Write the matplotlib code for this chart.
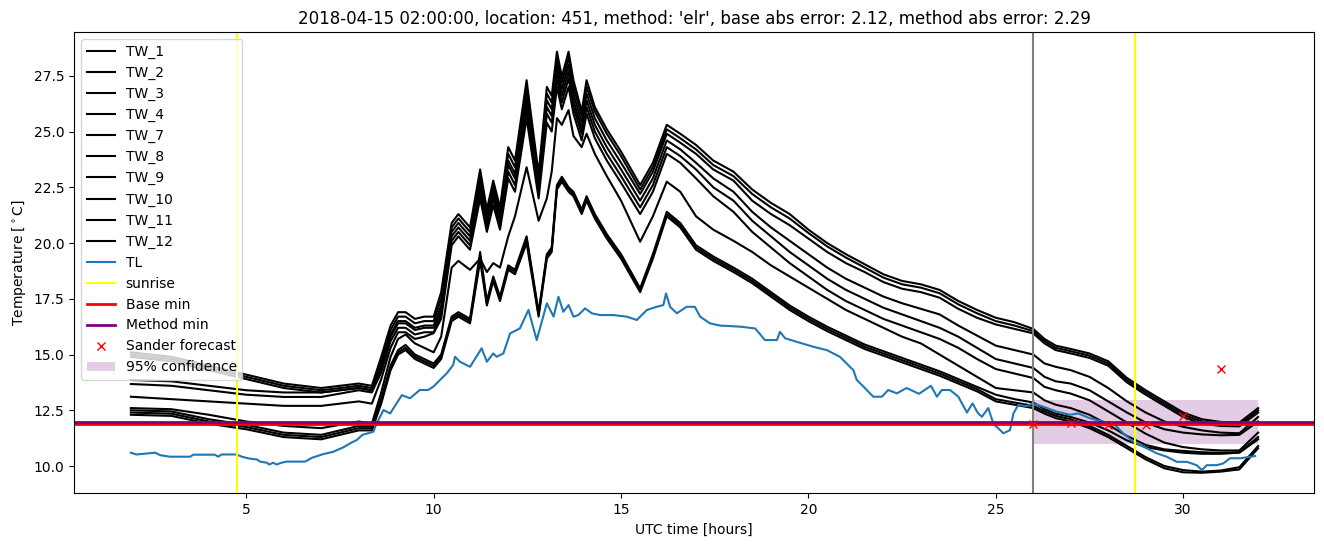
import matplotlib
matplotlib.use("Agg")
import matplotlib.pyplot as plt

# ---------------- data ----------------
hours = [1.92, 3.0, 4.0, 5.0, 6.0, 7.0, 8.0, 8.35, 8.6, 8.85,
         9.05, 9.25, 9.5, 9.75, 10.0, 10.2, 10.48, 10.66, 10.97, 11.24,
         11.42, 11.59, 11.77, 11.99, 12.17, 12.48, 12.8, 13.02, 13.15, 13.29,
         13.42, 13.6, 13.73, 13.95, 14.08, 14.3, 14.62, 15.0, 15.51, 15.85,
         16.22, 16.58, 17.0, 17.46, 18.0, 18.5, 19.0, 19.5, 20.0, 20.5,
         21.0, 21.5, 22.0, 22.5, 23.0, 23.5, 24.0, 24.5, 25.0, 25.5,
         26.0, 26.3, 26.6, 27.0, 27.5, 28.0, 28.5, 29.0, 29.5, 30.0,
         30.5, 31.0, 31.5, 32.0]

tw_1 = [15.1, 14.9, 14.5, 14.1, 13.7, 13.5, 13.7, 13.6, 14.9, 16.3,
        16.9, 16.9, 16.6, 16.7, 16.7, 17.8, 20.9, 21.3, 20.7, 23.3,
        21.5, 22.8, 21.6, 24.3, 23.7, 27.3, 23.1, 27.0, 26.6, 28.58,
        27.46, 28.58, 27.3, 25.9, 27.3, 26.1, 25.1, 24.1, 22.6, 23.6,
        25.3, 24.9, 24.4, 23.7, 23.2, 22.4, 21.8, 21.3, 20.6, 20.0,
        19.5, 19.05, 18.6, 18.3, 18.15, 17.9, 17.4, 17.0, 16.65, 16.45,
        16.15, 15.7, 15.4, 15.25, 15.05, 14.7, 13.95, 13.4, 12.9, 12.4,
        12.1, 11.98, 11.95, 12.6]
tw_2 = [15.0, 14.8, 14.4, 14.0, 13.6, 13.4, 13.6, 13.5, 14.7, 16.1,
        16.7, 16.7, 16.4, 16.5, 16.5, 17.5, 20.7, 21.1, 20.5, 23.0,
        21.3, 22.6, 21.4, 24.0, 23.4, 27.0, 22.9, 26.7, 26.3, 28.3,
        27.2, 28.3, 27.0, 25.7, 27.0, 25.9, 24.9, 23.9, 22.4, 23.4,
        25.1, 24.7, 24.2, 23.5, 23.0, 22.2, 21.6, 21.1, 20.45, 19.85,
        19.35, 18.9, 18.45, 18.15, 18.0, 17.75, 17.25, 16.85, 16.5, 16.3,
        16.05, 15.6, 15.3, 15.15, 14.95, 14.6, 13.85, 13.3, 12.8, 12.3,
        12.0, 11.88, 11.85, 12.5]
tw_3 = [14.9, 14.7, 14.3, 13.9, 13.5, 13.3, 13.5, 13.4, 14.5, 15.9,
        16.5, 16.5, 16.2, 16.3, 16.3, 17.2, 20.5, 20.9, 20.3, 22.7,
        21.1, 22.4, 21.2, 23.7, 23.1, 26.6, 22.7, 26.4, 26.0, 28.0,
        26.9, 28.0, 26.7, 25.4, 26.7, 25.6, 24.6, 23.6, 22.2, 23.2,
        24.9, 24.5, 24.0, 23.3, 22.8, 21.9, 21.3, 20.8, 20.2, 19.6,
        19.1, 18.7, 18.25, 17.95, 17.8, 17.55, 17.05, 16.65, 16.35, 16.15,
        15.95, 15.5, 15.2, 15.05, 14.85, 14.5, 13.75, 13.2, 12.7, 12.2,
        11.9, 11.8, 11.78, 12.4]
tw_4 = [13.86, 13.8, 13.6, 13.4, 13.3, 13.3, 13.5, 13.4, 14.4, 15.8,
        16.4, 16.4, 16.1, 16.2, 16.2, 17.0, 20.3, 20.7, 20.1, 22.5,
        20.9, 22.2, 21.0, 23.5, 22.9, 26.3, 22.5, 26.1, 25.7, 27.7,
        26.6, 27.7, 26.4, 25.1, 26.4, 25.3, 24.3, 23.3, 21.9, 22.9,
        24.6, 24.2, 23.6, 22.9, 22.3, 21.4, 20.7, 20.1, 19.5, 18.9,
        18.4, 18.0, 17.6, 17.3, 17.05, 16.8, 16.3, 15.85, 15.4, 15.2,
        15.0, 14.6, 14.45, 14.3, 14.0, 13.5, 12.9, 12.4, 12.0, 11.76,
        11.6, 11.5, 11.47, 12.2]
tw_7 = [13.68, 13.6, 13.4, 13.2, 13.1, 13.1, 13.4, 13.3, 14.2, 15.6,
        16.2, 16.2, 15.9, 16.0, 16.0, 16.8, 20.1, 20.5, 19.9, 22.2,
        20.7, 22.0, 20.8, 23.2, 22.6, 26.0, 22.3, 25.8, 25.4, 27.4,
        26.3, 27.4, 26.1, 24.9, 26.1, 25.0, 24.0, 23.0, 21.6, 22.6,
        24.3, 23.9, 23.3, 22.5, 21.9, 21.0, 20.3, 19.6, 19.0, 18.4,
        17.9, 17.5, 17.1, 16.8, 16.5, 16.2, 15.8, 15.3, 14.8, 14.6,
        14.4, 14.0, 13.8, 13.7, 13.4, 12.9, 12.4, 11.95, 11.65, 11.5,
        11.42, 11.38, 11.4, 12.0]
tw_8 = [13.11, 13.0, 12.9, 12.8, 12.7, 12.7, 12.9, 12.8, 13.9, 15.3,
        16.0, 16.0, 15.7, 15.8, 15.96, 16.6, 19.9, 20.3, 19.7, 22.0,
        20.5, 21.7, 20.6, 22.9, 22.3, 25.6, 22.0, 25.4, 25.0, 27.0,
        26.0, 27.0, 25.8, 24.6, 25.8, 24.7, 23.7, 22.7, 21.3, 22.3,
        24.0, 23.6, 22.9, 22.1, 21.4, 20.5, 19.8, 19.1, 18.5, 17.9,
        17.4, 17.0, 16.6, 16.3, 16.0, 15.7, 15.3, 14.8, 14.35, 14.15,
        13.95, 13.55, 13.4, 13.25, 12.95, 12.45, 11.95, 11.45, 11.05, 10.85,
        10.75, 10.7, 10.7, 11.5]
tw_9 = [12.6, 12.55, 12.3, 12.0, 11.8, 11.7, 12.0, 11.9, 13.3, 14.9,
        15.7, 15.9, 15.5, 15.3, 15.1, 15.8, 18.9, 19.2, 18.8, 19.3,
        18.7, 19.1, 18.9, 20.3, 21.2, 23.4, 21.0, 22.0, 23.2, 25.6,
        25.3, 25.96, 24.8, 24.3, 24.9, 24.0, 23.0, 21.9, 20.06, 21.2,
        22.75, 22.3, 21.2, 20.6, 20.1, 19.6, 19.0, 18.5, 18.0, 17.5,
        17.0, 16.6, 16.2, 15.8, 15.5, 15.0, 14.5, 14.0, 13.5, 13.4,
        13.3, 12.95, 12.75, 12.6, 12.3, 11.85, 11.35, 10.95, 10.75, 10.68,
        10.62, 10.6, 10.62, 11.3]
tw_10 = [12.5, 12.45, 12.1, 11.85, 11.5, 11.4, 11.8, 11.8, 13.0, 14.5,
         15.2, 15.43, 15.0, 14.8, 14.6, 15.0, 16.7, 16.9, 16.6, 19.6,
         17.4, 18.5, 17.6, 19.0, 18.8, 20.3, 16.9, 19.5, 19.8, 22.6,
         22.97, 22.5, 22.3, 21.5, 22.1, 21.3, 20.4, 19.5, 17.97, 19.5,
         21.4, 20.9, 19.9, 19.4, 18.9, 18.4, 17.8, 17.2, 16.7, 16.25,
         15.85, 15.45, 15.15, 14.85, 14.55, 14.25, 13.9, 13.55, 13.2, 13.0,
         12.85, 12.55, 12.35, 12.2, 11.95, 11.6, 11.15, 10.85, 10.7, 10.6,
         10.55, 10.55, 10.6, 11.2]
tw_11 = [12.4, 12.35, 12.0, 11.75, 11.4, 11.3, 11.7, 11.7, 12.9, 14.4,
         15.1, 15.3, 14.9, 14.7, 14.5, 14.9, 16.6, 16.8, 16.5, 19.4,
         17.3, 18.4, 17.5, 18.9, 18.7, 20.2, 16.8, 19.4, 19.7, 22.5,
         22.85, 22.4, 22.2, 21.4, 22.0, 21.2, 20.3, 19.4, 17.9, 19.4,
         21.3, 20.8, 19.8, 19.3, 18.8, 18.3, 17.7, 17.1, 16.6, 16.15,
         15.75, 15.35, 15.05, 14.75, 14.45, 14.15, 13.8, 13.45, 13.0, 12.85,
         12.7, 12.45, 12.25, 12.1, 11.8, 11.4, 10.9, 10.4, 10.0, 9.82,
         9.75, 9.8, 9.95, 10.9]
tw_12 = [12.3, 12.25, 11.9, 11.65, 11.3, 11.2, 11.6, 11.6, 12.8, 14.3,
         15.0, 15.2, 14.8, 14.6, 14.4, 14.8, 16.5, 16.7, 16.4, 19.2,
         17.2, 18.3, 17.4, 18.8, 18.6, 20.0, 16.7, 19.3, 19.6, 22.4,
         22.75, 22.3, 22.1, 21.3, 21.9, 21.1, 20.2, 19.3, 17.8, 19.3,
         21.2, 20.7, 19.7, 19.2, 18.7, 18.2, 17.6, 17.0, 16.5, 16.05,
         15.65, 15.25, 14.95, 14.65, 14.35, 14.05, 13.7, 13.35, 12.9, 12.75,
         12.6, 12.35, 12.15, 12.0, 11.7, 11.3, 10.8, 10.3, 9.9, 9.72,
         9.7, 9.75, 9.85, 10.8]

tw_labels = ["TW_1", "TW_2", "TW_3", "TW_4", "TW_7", "TW_8", "TW_9",
             "TW_10", "TW_11", "TW_12"]
tw_series = [tw_1, tw_2, tw_3, tw_4, tw_7, tw_8, tw_9, tw_10, tw_11, tw_12]

tl_hours = [1.92, 2.07, 2.57, 2.7, 2.96, 3.5, 3.59, 4.16, 4.25, 4.34,
            4.74, 4.88, 5.1, 5.28, 5.37, 5.55, 5.61, 5.72, 5.81, 5.94,
            6.08, 6.57, 6.75, 7.06, 7.32, 7.59, 7.77, 7.95, 8.1, 8.39,
            8.48, 8.66, 8.84, 9.15, 9.37, 9.63, 9.85, 9.99, 10.17, 10.35,
            10.52, 10.57, 10.7, 10.97, 11.28, 11.42, 11.59, 11.68, 11.86, 12.04,
            12.3, 12.53, 12.75, 13.02, 13.2, 13.33, 13.46, 13.6, 13.73, 13.86,
            14.04, 14.22, 14.44, 14.8, 15.15, 15.42, 15.69, 15.95, 16.13, 16.2,
            16.31, 16.49, 16.75, 16.97, 17.11, 17.37, 17.64, 18.18, 18.58, 18.84,
            19.16, 19.24, 19.38, 19.69, 20.13, 20.49, 20.84, 21.02, 21.2, 21.29,
            21.47, 21.73, 21.96, 22.13, 22.36, 22.62, 22.95, 23.27, 23.43, 23.56,
            23.78, 24.0, 24.23, 24.38, 24.52, 24.63, 24.8, 24.94, 25.07, 25.2,
            25.38, 25.47, 25.6, 25.83, 25.97, 26.27, 26.63, 26.98, 27.2, 27.52,
            27.87, 28.14, 28.4, 28.67, 28.94, 29.3, 29.56, 29.83, 30.1, 30.36,
            30.5, 30.63, 30.9, 31.07, 31.25, 31.52, 31.92]
tl_values = [10.6, 10.52, 10.6, 10.49, 10.42, 10.42, 10.51, 10.51, 10.42, 10.52,
             10.52, 10.42, 10.33, 10.3, 10.2, 10.15, 10.07, 10.15, 10.07, 10.15,
             10.2, 10.2, 10.37, 10.54, 10.64, 10.84, 11.02, 11.17, 11.4, 11.54,
             11.91, 12.51, 12.36, 13.18, 13.04, 13.41, 13.41, 13.56, 13.86, 14.16,
             14.53, 14.9, 14.68, 14.45, 15.28, 14.68, 15.05, 14.9, 15.05, 15.95,
             16.17, 17.0, 15.65, 17.3, 16.7, 17.59, 16.92, 17.22, 16.7, 16.77,
             17.07, 16.85, 16.77, 16.77, 16.7, 16.55, 17.0, 17.14, 17.22, 17.74,
             17.14, 16.85, 17.14, 17.14, 16.7, 16.4, 16.3, 16.25, 16.17, 15.65,
             15.65, 16.02, 15.73, 15.57, 15.35, 15.2, 14.9, 14.6, 14.3, 13.86,
             13.56, 13.11, 13.11, 13.41, 13.26, 13.5, 13.24, 13.6, 13.11, 13.41,
             13.41, 13.11, 12.4, 12.81, 12.38, 12.21, 12.6, 11.88, 11.69, 11.47,
             11.61, 12.36, 12.74, 12.69, 12.81, 12.66, 12.44, 12.3, 12.36, 12.14,
             11.99, 11.91, 11.47, 11.09, 10.87, 10.57, 10.42, 10.19, 10.19, 10.04,
             9.82, 10.04, 10.04, 10.12, 10.35, 10.35, 10.45]

sunrise_hours = [4.74, 28.72]
forecast_start = 26.0
base_min = 11.87
method_min = 11.97
sander_hours = [26, 27, 28, 29, 30, 31]
sander_values = [11.87, 11.91, 11.83, 11.83, 12.24, 14.34]
conf_hours = [26.0, 32.0]
conf_lower = [11.0, 11.0]
conf_upper = [12.96, 12.96]

title = ("2018-04-15 02:00:00, location: 451, method: 'elr', "
         "base abs error: 2.12, method abs error: 2.29")

# ---------------- plot ----------------
fig = plt.figure(figsize=(13.24, 5.47), dpi=100)
ax = fig.add_axes([0.0561, 0.0982, 0.9366, 0.8428])

for lab, vals in zip(tw_labels, tw_series):
    ax.plot(hours, vals, color="black", lw=1.5, label=lab)
ax.plot(tl_hours, tl_values, color="#1f77b4", lw=1.5, label="TL")

ax.axvline(forecast_start, color="gray", lw=1.5)
ax.axvline(sunrise_hours[0], color="yellow", lw=1.5, label="sunrise")
ax.axvline(sunrise_hours[1], color="yellow", lw=1.5)
ax.axhline(base_min, color="red", lw=2, label="Base min")
ax.axhline(method_min, color="purple", lw=2, label="Method min")
ax.plot(sander_hours, sander_values, "x", color="red", ls="none",
        label="Sander forecast")
ax.fill_between(conf_hours, conf_lower, conf_upper, color="purple",
                alpha=0.2, lw=0, label="95% confidence")

ax.set_xlim(0.41, 33.5)
ax.set_ylim(8.78, 29.45)
ax.set_title(title)
ax.set_xlabel("UTC time [hours]")
ax.set_ylabel(r"Temperature [$^\circ$C]")
ax.legend(loc="upper left")

fig.savefig("out.png", dpi=100)
